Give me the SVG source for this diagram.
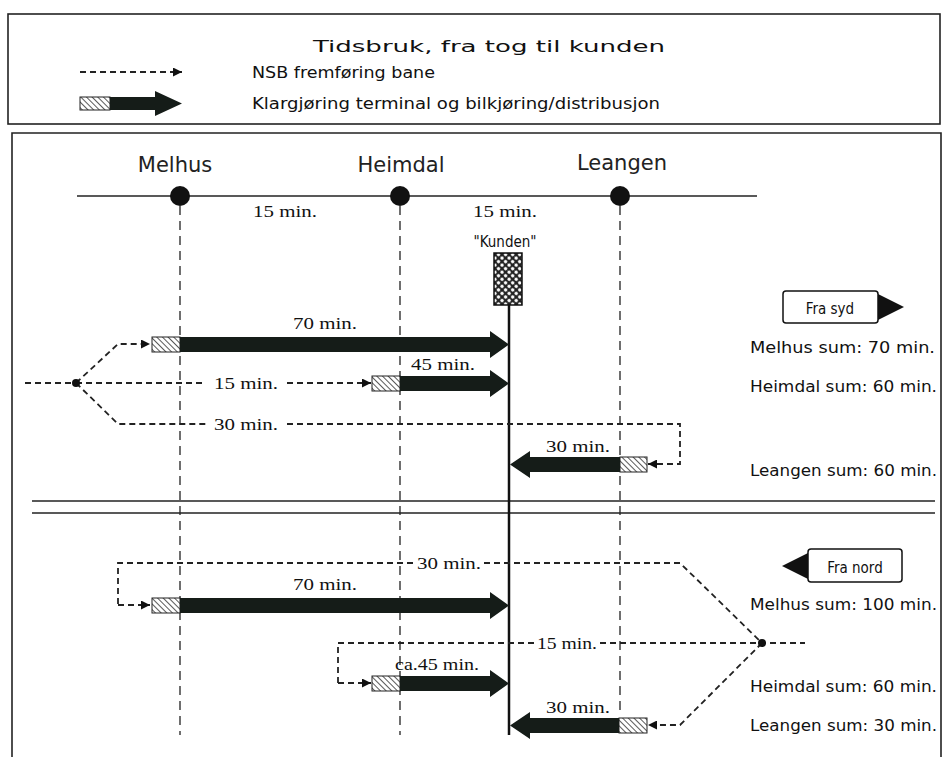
<svg xmlns="http://www.w3.org/2000/svg" width="949" height="757" viewBox="0 0 949 757">
<defs>
<pattern id="hatch" patternUnits="userSpaceOnUse" width="4" height="4" patternTransform="rotate(-45)">
<rect width="4" height="4" fill="#fff"/>
<line x1="0" y1="0" x2="0" y2="4" stroke="#222" stroke-width="1.5"/>
</pattern>
<pattern id="cross" patternUnits="userSpaceOnUse" width="5" height="5" patternTransform="rotate(45)">
<rect width="5" height="5" fill="#222"/>
<circle cx="2.5" cy="2.5" r="1.7" fill="#fff"/>
</pattern>
<marker id="ah" viewBox="0 0 10 10" refX="10" refY="5" markerWidth="9" markerHeight="9" markerUnits="userSpaceOnUse" orient="auto">
<path d="M0,0 L10,5 L0,10 Z" fill="#111"/>
</marker>
<style>
.frame{fill:none;stroke:#222;stroke-width:1.6}
.track{stroke:#222;stroke-width:1.6;fill:none}
.vdash{stroke:#222;stroke-width:1.3;stroke-dasharray:9 6;fill:none}
.dash{stroke:#222;stroke-width:1.8;stroke-dasharray:6 4;fill:none}
.dasha{stroke:#222;stroke-width:1.8;stroke-dasharray:6 4;fill:none;marker-end:url(#ah)}
.bar{fill:#151c18}
.hb{fill:url(#hatch);stroke:#222;stroke-width:1}
.lbl{font-family:"Liberation Serif","DejaVu Serif",serif;font-size:17px;fill:#111}
.leg{font-family:"DejaVu Sans Condensed","Liberation Sans",sans-serif;font-size:15px;fill:#111}
.st{font-family:"DejaVu Sans","Liberation Sans",sans-serif;font-size:21px;fill:#222}
.sum{font-family:"DejaVu Sans Condensed","Liberation Sans",sans-serif;font-size:15px;fill:#111}
</style>
</defs>
<rect width="949" height="757" fill="#fff"/>

<g id="legend">
<rect class="frame" x="8" y="14" width="932" height="110"/>
<text x="313" y="52" class="leg" font-size="29" textLength="352" lengthAdjust="spacingAndGlyphs">Tidsbruk, fra tog til kunden</text>
<line class="dasha" x1="80" y1="72" x2="182" y2="72"/>
<text x="252" y="78" class="leg" font-size="16" textLength="183" lengthAdjust="spacingAndGlyphs">NSB fremføring bane</text>
<rect class="hb" x="80" y="97" width="30" height="13"/>
<path class="bar" d="M110,97 H155 V91 L182,103.5 L155,116 V110 H110 Z"/>
<text x="252" y="109" class="leg" font-size="16" textLength="408" lengthAdjust="spacingAndGlyphs">Klargjøring terminal og bilkjøring/distribusjon</text>
</g>

<g id="main-frame">
<path class="frame" d="M12,757 V133 H941 V757"/>
<line class="track" x1="32" y1="501" x2="935" y2="501"/>
<line class="track" x1="32" y1="513" x2="935" y2="513"/>
</g>

<g id="track">
<line class="track" x1="77" y1="196" x2="757" y2="196"/>
<text x="285" y="217" class="lbl" text-anchor="middle" textLength="64" lengthAdjust="spacingAndGlyphs">15 min.</text>
<text x="505" y="217" class="lbl" text-anchor="middle" textLength="64" lengthAdjust="spacingAndGlyphs">15 min.</text>
</g>

<g id="connectors">
<line class="vdash" x1="180" y1="206" x2="180" y2="735"/>
<line class="vdash" x1="400" y1="206" x2="400" y2="735"/>
<line class="vdash" x1="620" y1="206" x2="620" y2="713"/>
<line x1="509" y1="305" x2="509" y2="735" stroke="#111" stroke-width="2.5"/>

<!-- Fra syd -->
<line class="dash" x1="25" y1="383" x2="76" y2="383"/>
<path class="dasha" d="M76,383 L118,344 H150"/>
<line class="dash" x1="76" y1="383" x2="206" y2="383"/>
<line class="dasha" x1="287" y1="383" x2="371" y2="383"/>
<path class="dash" d="M76,383 L118,424 H206"/>
<path class="dasha" d="M287,424 H680 V464 H648"/>

<!-- Fra nord -->
<path class="dash" d="M413,563 H118 V605"/>
<path class="dasha" d="M118,605 H150"/>
<path class="dash" d="M484,563 H680 L762,643"/>
<path class="dash" d="M534,643 H338 V683"/>
<path class="dasha" d="M338,683 H371"/>
<path class="dash" d="M600,643 H805"/>
<path class="dasha" d="M762,643 L680,725 H648"/>
</g>

<g id="melhus">
<circle cx="180" cy="196" r="10" fill="#111"/>
<text x="175" y="172" class="st" text-anchor="middle">Melhus</text>
</g>
<g id="heimdal">
<circle cx="400" cy="196" r="10" fill="#111"/>
<text x="401" y="172" class="st" text-anchor="middle">Heimdal</text>
</g>
<g id="leangen">
<circle cx="620" cy="196" r="10" fill="#111"/>
<text x="622" y="170" class="st" text-anchor="middle">Leangen</text>
</g>

<g id="kunden">
<text x="505" y="247" class="leg" text-anchor="middle" font-size="17">"Kunden"</text>
<rect x="494" y="253" width="28" height="52" fill="url(#cross)" stroke="#111" stroke-width="1.5"/>
</g>

<g id="syd-melhus">
<rect class="hb" x="152" y="337" width="28" height="15"/>
<path class="bar" d="M180,337 H490 V331 L509,344.5 L490,358 V352 H180 Z"/>
<text x="325" y="329" class="lbl" text-anchor="middle" textLength="64" lengthAdjust="spacingAndGlyphs">70 min.</text>
</g>
<g id="syd-heimdal">
<rect class="hb" x="372" y="376" width="28" height="15"/>
<path class="bar" d="M400,376 H490 V370 L509,383.5 L490,397 V391 H400 Z"/>
<text x="443" y="370" class="lbl" text-anchor="middle" textLength="64" lengthAdjust="spacingAndGlyphs">45 min.</text>
<text x="246" y="389" class="lbl" text-anchor="middle" textLength="64" lengthAdjust="spacingAndGlyphs">15 min.</text>
<text x="246" y="430" class="lbl" text-anchor="middle" textLength="64" lengthAdjust="spacingAndGlyphs">30 min.</text>
</g>
<g id="syd-leangen">
<rect class="hb" x="620" y="457" width="27" height="15"/>
<path class="bar" d="M620,457 H530 V451 L510,464.5 L530,478 V472 H620 Z"/>
<text x="578" y="452" class="lbl" text-anchor="middle" textLength="64" lengthAdjust="spacingAndGlyphs">30 min.</text>
</g>

<g id="fra-syd">
<rect x="783" y="291" width="95" height="32" rx="3" fill="#fff" stroke="#111" stroke-width="1.5"/>
<path d="M878,294 L904,307 L878,320 Z" fill="#111"/>
<text x="830" y="314" class="leg" text-anchor="middle" font-size="17">Fra syd</text>
<text x="750" y="353" class="sum" textLength="185" lengthAdjust="spacingAndGlyphs">Melhus sum: 70 min.</text>
<text x="750" y="392" class="sum" textLength="187" lengthAdjust="spacingAndGlyphs">Heimdal sum: 60 min.</text>
<text x="750" y="476" class="sum" textLength="187" lengthAdjust="spacingAndGlyphs">Leangen sum: 60 min.</text>
</g>

<g id="nord-melhus">
<rect class="hb" x="152" y="598" width="28" height="15"/>
<path class="bar" d="M180,598 H490 V592 L509,605.5 L490,619 V613 H180 Z"/>
<text x="325" y="590" class="lbl" text-anchor="middle" textLength="64" lengthAdjust="spacingAndGlyphs">70 min.</text>
<text x="449" y="569" class="lbl" text-anchor="middle" textLength="64" lengthAdjust="spacingAndGlyphs">30 min.</text>
</g>
<g id="nord-heimdal">
<rect class="hb" x="372" y="676" width="28" height="15"/>
<path class="bar" d="M400,676 H490 V670 L509,683.5 L490,697 V691 H400 Z"/>
<text x="437" y="670" class="lbl" text-anchor="middle" textLength="84" lengthAdjust="spacingAndGlyphs">ca.45 min.</text>
<text x="567" y="649" class="lbl" text-anchor="middle" textLength="60" lengthAdjust="spacingAndGlyphs">15 min.</text>
</g>
<g id="nord-leangen">
<rect class="hb" x="619" y="718" width="28" height="15"/>
<path class="bar" d="M619,718 H530 V712 L510,725.5 L530,739 V733 H619 Z"/>
<text x="578" y="713" class="lbl" text-anchor="middle" textLength="64" lengthAdjust="spacingAndGlyphs">30 min.</text>
</g>

<g id="fra-nord">
<rect x="808" y="549" width="94" height="33" rx="3" fill="#fff" stroke="#111" stroke-width="1.5"/>
<path d="M808,553 L782,566 L808,579 Z" fill="#111"/>
<text x="855" y="573" class="leg" text-anchor="middle" font-size="17">Fra nord</text>
<text x="750" y="610" class="sum" textLength="187" lengthAdjust="spacingAndGlyphs">Melhus sum: 100 min.</text>
<text x="750" y="692" class="sum" textLength="187" lengthAdjust="spacingAndGlyphs">Heimdal sum: 60 min.</text>
<text x="750" y="731" class="sum" textLength="187" lengthAdjust="spacingAndGlyphs">Leangen sum: 30 min.</text>
</g>

<g id="junctions">
<circle cx="76" cy="383" r="4" fill="#111"/>
<circle cx="762" cy="643" r="4" fill="#111"/>
</g>
</svg>
